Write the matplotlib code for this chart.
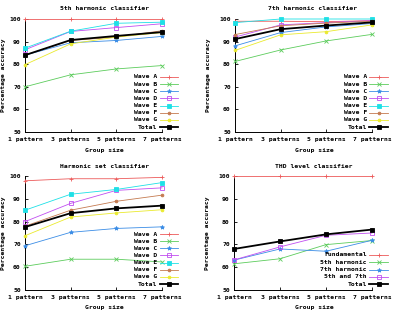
import matplotlib
matplotlib.use("Agg")
import matplotlib.pyplot as plt
from matplotlib.lines import Line2D

W, H = 396, 313

group_sizes = ["1 pattern", "3 patterns", "5 patterns", "7 patterns"]
wave_labels = ["Wave A", "Wave B", "Wave C", "Wave D", "Wave E", "Wave F", "Wave G", "Total"]
thd_labels = ["Fundamental", "5th harmonic", "7th harmonic", "5th and 7th", "Total"]

# 5th harmonic classifier
h5_A = [100, 100, 100, 100]
h5_B = [70, 75.3, 77.9, 79.4]
h5_C = [84, 89.5, 90.5, 92.3]
h5_D = [86.4, 94.5, 96.2, 97.9]
h5_E = [87.1, 94.6, 98.1, 98.6]
h5_F = [84, 90.5, 92.0, 94.8]
h5_G = [79.8, 89.0, 92.0, 94.0]
h5_T = [84, 90.7, 92.5, 94.2]

# 7th harmonic classifier
h7_A = [99, 99, 98.8, 99.3]
h7_B = [81.2, 86.3, 90.3, 93.2]
h7_C = [88.1, 94.0, 96.5, 98.0]
h7_D = [92, 97.4, 98.4, 99.3]
h7_E = [98.4, 100, 100, 100]
h7_F = [93.1, 97.0, 98.2, 99.0]
h7_G = [86.1, 93.0, 94.4, 97.4]
h7_T = [91.1, 95.5, 97.1, 98.5]

# Harmonic set classifier
hs_A = [97.9, 98.8, 98.8, 99.4]
hs_B = [60.4, 63.5, 63.5, 62.3]
hs_C = [69.4, 75.3, 77.0, 77.7]
hs_D = [80.0, 88.0, 93.7, 94.8]
hs_E = [85.0, 92.0, 94.1, 97.1]
hs_F = [78.0, 85.0, 88.9, 91.6]
hs_G = [73.8, 82.0, 83.8, 85.2]
hs_T = [77.6, 83.7, 85.8, 87.0]

# THD level classifier
thd_fund = [100, 100, 100, 100]
thd_5 = [61.5, 63.7, 69.9, 71.7]
thd_7 = [63.1, 68.0, 67.0, 71.8]
thd_57 = [63.2, 68.9, 74.0, 75.0]
thd_T = [68.0, 71.3, 74.4, 76.5]

wave_colors = ["#ec5a5a", "#5ccc5c", "#3b8de6", "#c04ef0", "#1ee0e6", "#c47a50", "#eaea2e", "#000000"]
wave_markers = ["+", "x", "*", "s", "s", "o", "o", "s"]
wave_fill = [True, True, True, False, True, True, True, True]

FONT = dict(family="DejaVu Sans Mono", fontweight="bold", fontsize=4.6)

fig = plt.figure(figsize=(W / 100, H / 100), dpi=100)


def fx(px):
    return px / W


def fy(py):
    return 1 - py / H


def style(i):
    c = wave_colors[i]
    total = (c == "#000000")
    kw = dict(color=c, lw=1.3 if total else 0.6, marker=wave_markers[i],
              ms=3.3 if total else 3.0, mew=0.6,
              markerfacecolor=(c if wave_fill[i] else "none"), markeredgecolor=c)
    if wave_markers[i] == "o":
        kw["ms"] = 2.0
    return kw


def make_axes(x0, x1, y100, y50, title, tcx, tcy, xlcx, xlcy, ylx):
    ax = fig.add_axes([fx(x0), fy(y50), (x1 - x0) / W, (y50 - y100) / H])
    ax.set_xlim(0, 3)
    ax.set_ylim(50, 100)
    ax.set_xticks(range(4))
    ax.set_xticklabels(group_sizes, **FONT)
    ax.set_yticks(range(50, 101, 10))
    ax.set_yticklabels([str(v) for v in range(50, 101, 10)], **FONT)
    ax.tick_params(direction="in", length=2.5, width=0.6, pad=3)
    ax.tick_params(axis="x", pad=3.5)
    for s in ["top", "right"]:
        ax.spines[s].set_visible(False)
    for s in ["left", "bottom"]:
        ax.spines[s].set_linewidth(0.7)
    ax.patch.set_alpha(0)
    fig.text(fx(tcx), fy(tcy), title, ha="center", va="center", **FONT)
    fig.text(fx(xlcx), fy(xlcy), "Group size", ha="center", va="center", **FONT)
    fig.text(fx(ylx), fy((y100 + y50) / 2), "Percentage accuracy", rotation=90,
             ha="center", va="center", **FONT)
    return ax


def legend(labels, idxs, y_first, y_last, tx, sx0, sx1):
    n = len(labels)
    step = (y_last - y_first) / (n - 1)
    for k, (lab, i) in enumerate(zip(labels, idxs)):
        y = y_first + k * step
        fig.text(fx(tx), fy(y), lab, ha="right", va="center", **FONT)
        kw = style(i)
        fig.add_artist(Line2D([fx(sx0), fx(sx1)], [fy(y), fy(y)], transform=fig.transFigure,
                              color=kw["color"], lw=kw["lw"]))
        fig.add_artist(Line2D([fx((sx0 + sx1) / 2)], [fy(y)], transform=fig.transFigure,
                              ls="none", marker=kw["marker"], ms=kw["ms"], mew=kw["mew"],
                              markerfacecolor=kw["markerfacecolor"], markeredgecolor=kw["markeredgecolor"]))


x = list(range(4))

ax1 = make_axes(25, 162, 19, 132, "5th harmonic classifier", 105, 8, 104, 151, 3.5)
for i, s in enumerate([h5_A, h5_B, h5_C, h5_D, h5_E, h5_F, h5_G, h5_T]):
    ax1.plot(x, s, clip_on=False, zorder=3 + (i == 7), **style(i))
legend(wave_labels, range(8), 77, 127, 157, 160, 178)

ax2 = make_axes(235, 372, 19, 132, "7th harmonic classifier", 313, 8, 314, 151, 208.5)
for i, s in enumerate([h7_A, h7_B, h7_C, h7_D, h7_E, h7_F, h7_G, h7_T]):
    ax2.plot(x, s, clip_on=False, zorder=3 + (i == 7), **style(i))
legend(wave_labels, range(8), 77, 127, 367, 369, 388)

ax3 = make_axes(25, 162, 176, 290, "Harmonic set classifier", 105, 166, 104, 308, 3.5)
for i, s in enumerate([hs_A, hs_B, hs_C, hs_D, hs_E, hs_F, hs_G, hs_T]):
    ax3.plot(x, s, clip_on=False, zorder=3 + (i == 7), **style(i))
legend(wave_labels, range(8), 234, 284, 157, 160, 178)

ax4 = make_axes(234, 372, 176, 290, "THD level classifier", 314, 166, 314, 308, 207.5)
for i, s in zip([0, 1, 2, 3, 7], [thd_fund, thd_5, thd_7, thd_57, thd_T]):
    ax4.plot(x, s, clip_on=False, zorder=3 + (i == 7), **style(i))
legend(thd_labels, [0, 1, 2, 3, 7], 255, 284, 367, 369, 388)

fig.savefig("out.png", dpi=100)
